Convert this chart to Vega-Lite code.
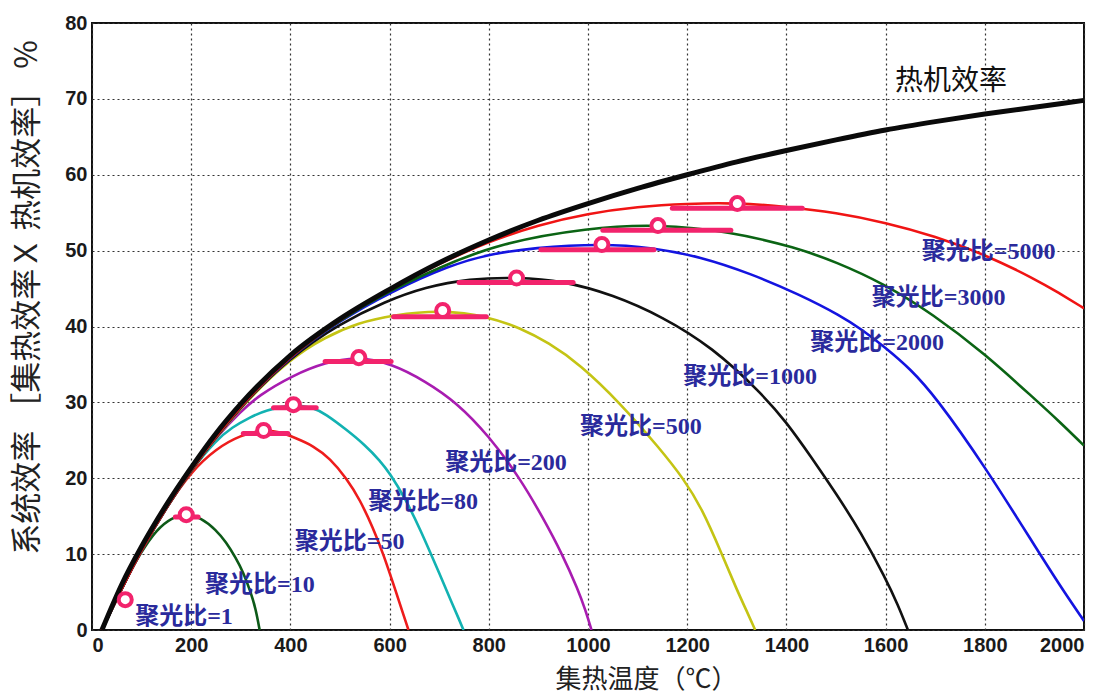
{
  "$schema": "https://vega.github.io/schema/vega-lite/v6.json",
  "width": 992,
  "height": 607,
  "autosize": "none",
  "padding": {"left": 92, "top": 23, "right": 27, "bottom": 63},
  "background": "white",
  "config": {
    "view": {"stroke": "#111111", "strokeWidth": 2},
    "axis": {
      "grid": true,
      "gridColor": "#333333",
      "gridDash": [2, 3],
      "gridWidth": 1.2,
      "domain": false,
      "ticks": false,
      "labelFont": "Liberation Sans",
      "labelFontSize": 20,
      "labelFontWeight": "bold",
      "labelColor": "#1a1a1a",
      "titleFont": "Noto Sans CJK SC",
      "titleFontWeight": "normal",
      "titleColor": "#222222"
    }
  },
  "datasets": {
    "curves": [
      {"s": "热机效率", "x": 20, "y": 0}, {"s": "热机效率", "x": 60, "y": 6}, {"s": "热机效率", "x": 100, "y": 11}, {"s": "热机效率", "x": 150, "y": 16.5}, {"s": "热机效率", "x": 200, "y": 21.4}, {"s": "热机效率", "x": 250, "y": 25.9}, {"s": "热机效率", "x": 300, "y": 29.8}, {"s": "热机效率", "x": 400, "y": 36.2}, {"s": "热机效率", "x": 500, "y": 41}, {"s": "热机效率", "x": 600, "y": 44.9}, {"s": "热机效率", "x": 700, "y": 48.4}, {"s": "热机效率", "x": 800, "y": 51.4}, {"s": "热机效率", "x": 900, "y": 54}, {"s": "热机效率", "x": 1000, "y": 56.2}, {"s": "热机效率", "x": 1100, "y": 58.2}, {"s": "热机效率", "x": 1200, "y": 60}, {"s": "热机效率", "x": 1300, "y": 61.7}, {"s": "热机效率", "x": 1400, "y": 63.2}, {"s": "热机效率", "x": 1500, "y": 64.6}, {"s": "热机效率", "x": 1600, "y": 65.9}, {"s": "热机效率", "x": 1700, "y": 67}, {"s": "热机效率", "x": 1800, "y": 68}, {"s": "热机效率", "x": 1900, "y": 68.9}, {"s": "热机效率", "x": 2000, "y": 69.8},

      {"s": "CR10", "x": 20, "y": 0}, {"s": "CR10", "x": 60, "y": 5.8}, {"s": "CR10", "x": 100, "y": 10.4}, {"s": "CR10", "x": 130, "y": 13.2}, {"s": "CR10", "x": 160, "y": 14.8}, {"s": "CR10", "x": 190, "y": 15.3}, {"s": "CR10", "x": 220, "y": 14.8}, {"s": "CR10", "x": 250, "y": 13.2}, {"s": "CR10", "x": 270, "y": 11.6}, {"s": "CR10", "x": 290, "y": 9.5}, {"s": "CR10", "x": 305, "y": 7.6}, {"s": "CR10", "x": 320, "y": 5}, {"s": "CR10", "x": 330, "y": 2.8}, {"s": "CR10", "x": 338, "y": 0},

      {"s": "CR50", "x": 20, "y": 0}, {"s": "CR50", "x": 100, "y": 10.9}, {"s": "CR50", "x": 150, "y": 16.2}, {"s": "CR50", "x": 200, "y": 20.9}, {"s": "CR50", "x": 250, "y": 23.9}, {"s": "CR50", "x": 300, "y": 25.7}, {"s": "CR50", "x": 346, "y": 26.4}, {"s": "CR50", "x": 380, "y": 26.1}, {"s": "CR50", "x": 410, "y": 25.3}, {"s": "CR50", "x": 446, "y": 24.3}, {"s": "CR50", "x": 480, "y": 22.6}, {"s": "CR50", "x": 513, "y": 20}, {"s": "CR50", "x": 540, "y": 17.2}, {"s": "CR50", "x": 567, "y": 13.4}, {"s": "CR50", "x": 587, "y": 10.1}, {"s": "CR50", "x": 615, "y": 4.6}, {"s": "CR50", "x": 628, "y": 2}, {"s": "CR50", "x": 638, "y": 0},

      {"s": "CR80", "x": 20, "y": 0}, {"s": "CR80", "x": 100, "y": 11}, {"s": "CR80", "x": 150, "y": 16.4}, {"s": "CR80", "x": 200, "y": 21.1}, {"s": "CR80", "x": 250, "y": 25}, {"s": "CR80", "x": 282, "y": 26.7}, {"s": "CR80", "x": 320, "y": 28.1}, {"s": "CR80", "x": 349, "y": 28.9}, {"s": "CR80", "x": 405, "y": 29.8}, {"s": "CR80", "x": 446, "y": 29.3}, {"s": "CR80", "x": 470, "y": 28.5}, {"s": "CR80", "x": 513, "y": 26.4}, {"s": "CR80", "x": 550, "y": 24.4}, {"s": "CR80", "x": 581, "y": 22.3}, {"s": "CR80", "x": 601, "y": 20.6}, {"s": "CR80", "x": 630, "y": 17.5}, {"s": "CR80", "x": 661, "y": 13.4}, {"s": "CR80", "x": 702, "y": 7.2}, {"s": "CR80", "x": 728, "y": 3.2}, {"s": "CR80", "x": 740, "y": 1.4}, {"s": "CR80", "x": 749, "y": 0},

      {"s": "CR200", "x": 20, "y": 0}, {"s": "CR200", "x": 100, "y": 11}, {"s": "CR200", "x": 200, "y": 21.2}, {"s": "CR200", "x": 250, "y": 25.4}, {"s": "CR200", "x": 300, "y": 28.8}, {"s": "CR200", "x": 336, "y": 30.9}, {"s": "CR200", "x": 403, "y": 33.5}, {"s": "CR200", "x": 470, "y": 35.3}, {"s": "CR200", "x": 538, "y": 36}, {"s": "CR200", "x": 605, "y": 35.1}, {"s": "CR200", "x": 672, "y": 32.8}, {"s": "CR200", "x": 735, "y": 30}, {"s": "CR200", "x": 800, "y": 25.6}, {"s": "CR200", "x": 863, "y": 20}, {"s": "CR200", "x": 910, "y": 14.7}, {"s": "CR200", "x": 948, "y": 10}, {"s": "CR200", "x": 980, "y": 5.3}, {"s": "CR200", "x": 995, "y": 2.6}, {"s": "CR200", "x": 1007, "y": 0},

      {"s": "CR500", "x": 20, "y": 0}, {"s": "CR500", "x": 100, "y": 11}, {"s": "CR500", "x": 200, "y": 21.3}, {"s": "CR500", "x": 300, "y": 29.5}, {"s": "CR500", "x": 400, "y": 35.8}, {"s": "CR500", "x": 470, "y": 38.6}, {"s": "CR500", "x": 538, "y": 40.5}, {"s": "CR500", "x": 605, "y": 41.5}, {"s": "CR500", "x": 706, "y": 42.2}, {"s": "CR500", "x": 800, "y": 41.3}, {"s": "CR500", "x": 863, "y": 39.8}, {"s": "CR500", "x": 920, "y": 37.9}, {"s": "CR500", "x": 984, "y": 35}, {"s": "CR500", "x": 1065, "y": 29.9}, {"s": "CR500", "x": 1145, "y": 23.9}, {"s": "CR500", "x": 1192, "y": 20}, {"s": "CR500", "x": 1230, "y": 16}, {"s": "CR500", "x": 1270, "y": 10}, {"s": "CR500", "x": 1300, "y": 5.3}, {"s": "CR500", "x": 1320, "y": 2.5}, {"s": "CR500", "x": 1337, "y": 0},

      {"s": "CR1000", "x": 20, "y": 0}, {"s": "CR1000", "x": 100, "y": 11}, {"s": "CR1000", "x": 200, "y": 21.3}, {"s": "CR1000", "x": 300, "y": 29.6}, {"s": "CR1000", "x": 400, "y": 36}, {"s": "CR1000", "x": 500, "y": 40.4}, {"s": "CR1000", "x": 591, "y": 43.3}, {"s": "CR1000", "x": 672, "y": 45.2}, {"s": "CR1000", "x": 760, "y": 46.3}, {"s": "CR1000", "x": 857, "y": 46.5}, {"s": "CR1000", "x": 950, "y": 46}, {"s": "CR1000", "x": 1050, "y": 44.2}, {"s": "CR1000", "x": 1150, "y": 41.3}, {"s": "CR1000", "x": 1250, "y": 37.3}, {"s": "CR1000", "x": 1350, "y": 31.2}, {"s": "CR1000", "x": 1400, "y": 27.4}, {"s": "CR1000", "x": 1450, "y": 22.8}, {"s": "CR1000", "x": 1500, "y": 18}, {"s": "CR1000", "x": 1550, "y": 12.9}, {"s": "CR1000", "x": 1600, "y": 6.8}, {"s": "CR1000", "x": 1625, "y": 3.3}, {"s": "CR1000", "x": 1645, "y": 0},

      {"s": "CR2000", "x": 20, "y": 0}, {"s": "CR2000", "x": 100, "y": 11}, {"s": "CR2000", "x": 200, "y": 21.4}, {"s": "CR2000", "x": 300, "y": 29.7}, {"s": "CR2000", "x": 400, "y": 36.1}, {"s": "CR2000", "x": 500, "y": 40.8}, {"s": "CR2000", "x": 600, "y": 44.5}, {"s": "CR2000", "x": 722, "y": 48.1}, {"s": "CR2000", "x": 800, "y": 49.5}, {"s": "CR2000", "x": 890, "y": 50.4}, {"s": "CR2000", "x": 1028, "y": 50.9}, {"s": "CR2000", "x": 1131, "y": 50.4}, {"s": "CR2000", "x": 1226, "y": 49.2}, {"s": "CR2000", "x": 1327, "y": 47}, {"s": "CR2000", "x": 1427, "y": 44.2}, {"s": "CR2000", "x": 1510, "y": 41.4}, {"s": "CR2000", "x": 1552, "y": 39.6}, {"s": "CR2000", "x": 1600, "y": 37.2}, {"s": "CR2000", "x": 1650, "y": 34.4}, {"s": "CR2000", "x": 1700, "y": 30.8}, {"s": "CR2000", "x": 1800, "y": 21.6}, {"s": "CR2000", "x": 1911, "y": 10}, {"s": "CR2000", "x": 1960, "y": 5}, {"s": "CR2000", "x": 2000, "y": 1.2},

      {"s": "CR3000", "x": 20, "y": 0}, {"s": "CR3000", "x": 100, "y": 11}, {"s": "CR3000", "x": 200, "y": 21.4}, {"s": "CR3000", "x": 300, "y": 29.7}, {"s": "CR3000", "x": 400, "y": 36.2}, {"s": "CR3000", "x": 500, "y": 40.9}, {"s": "CR3000", "x": 600, "y": 44.7}, {"s": "CR3000", "x": 700, "y": 47.8}, {"s": "CR3000", "x": 823, "y": 51}, {"s": "CR3000", "x": 1000, "y": 53}, {"s": "CR3000", "x": 1140, "y": 53.5}, {"s": "CR3000", "x": 1288, "y": 52.5}, {"s": "CR3000", "x": 1420, "y": 50.4}, {"s": "CR3000", "x": 1500, "y": 48.5}, {"s": "CR3000", "x": 1595, "y": 45.7}, {"s": "CR3000", "x": 1696, "y": 41.6}, {"s": "CR3000", "x": 1800, "y": 36.4}, {"s": "CR3000", "x": 1898, "y": 30.6}, {"s": "CR3000", "x": 1950, "y": 27.5}, {"s": "CR3000", "x": 2000, "y": 24.3},

      {"s": "CR5000", "x": 20, "y": 0}, {"s": "CR5000", "x": 100, "y": 11}, {"s": "CR5000", "x": 200, "y": 21.4}, {"s": "CR5000", "x": 300, "y": 29.7}, {"s": "CR5000", "x": 400, "y": 36.2}, {"s": "CR5000", "x": 500, "y": 41}, {"s": "CR5000", "x": 600, "y": 44.9}, {"s": "CR5000", "x": 700, "y": 48.3}, {"s": "CR5000", "x": 800, "y": 51.2}, {"s": "CR5000", "x": 900, "y": 53.4}, {"s": "CR5000", "x": 1000, "y": 54.9}, {"s": "CR5000", "x": 1100, "y": 55.8}, {"s": "CR5000", "x": 1200, "y": 56.2}, {"s": "CR5000", "x": 1300, "y": 56.3}, {"s": "CR5000", "x": 1400, "y": 55.8}, {"s": "CR5000", "x": 1500, "y": 55}, {"s": "CR5000", "x": 1600, "y": 53.7}, {"s": "CR5000", "x": 1700, "y": 51.9}, {"s": "CR5000", "x": 1800, "y": 49.5}, {"s": "CR5000", "x": 1900, "y": 46.3}, {"s": "CR5000", "x": 1950, "y": 44.4}, {"s": "CR5000", "x": 2000, "y": 42.4}
    ],
    "peaks": [
      {"cr": "CR1", "cx": 67, "cy": 4.0},
      {"cr": "CR10", "cx": 190, "cy": 15.2, "x1": 168, "x2": 214, "by": 14.9},
      {"cr": "CR50", "cx": 346, "cy": 26.3, "x1": 305, "x2": 395, "by": 25.9},
      {"cr": "CR80", "cx": 406, "cy": 29.7, "x1": 366, "x2": 452, "by": 29.3},
      {"cr": "CR200", "cx": 538, "cy": 35.9, "x1": 470, "x2": 603, "by": 35.4},
      {"cr": "CR500", "cx": 707, "cy": 42.1, "x1": 608, "x2": 795, "by": 41.3},
      {"cr": "CR1000", "cx": 856, "cy": 46.4, "x1": 740, "x2": 970, "by": 45.8},
      {"cr": "CR2000", "cx": 1028, "cy": 50.8, "x1": 905, "x2": 1133, "by": 50.1},
      {"cr": "CR3000", "cx": 1141, "cy": 53.3, "x1": 1030, "x2": 1288, "by": 52.7},
      {"cr": "CR5000", "cx": 1301, "cy": 56.2, "x1": 1170, "x2": 1432, "by": 55.6}
    ],
    "labels": [
      {"t": "聚光比=1", "x": 87, "y": 1.75},
      {"t": "聚光比=10", "x": 228, "y": 5.9},
      {"t": "聚光比=50", "x": 409, "y": 11.6},
      {"t": "聚光比=80", "x": 557, "y": 16.9},
      {"t": "聚光比=200", "x": 712, "y": 22},
      {"t": "聚光比=500", "x": 984, "y": 26.8},
      {"t": "聚光比=1000", "x": 1192, "y": 33.4},
      {"t": "聚光比=2000", "x": 1448, "y": 37.8},
      {"t": "聚光比=3000", "x": 1572, "y": 43.7},
      {"t": "聚光比=5000", "x": 1673, "y": 49.8}
    ],
    "title2": [{"t": "热机效率", "x": 1619, "y": 72.2}]
  },
  "layer": [
    {
      "data": {"name": "curves"},
      "transform": [{"filter": "datum.s !== '热机效率'"}],
      "mark": {"type": "line", "strokeWidth": 2.6, "interpolate": "basis", "clip": true},
      "encoding": {
        "x": {
          "field": "x", "type": "quantitative",
          "scale": {"domain": [0, 2000], "nice": false, "zero": false},
          "axis": {
            "values": [0, 200, 400, 600, 800, 1000, 1200, 1400, 1600, 1800, 2000],
            "format": "d",
            "title": "集热温度（℃）",
            "titleFontSize": 26,
            "labelPadding": 5,
            "titleX": 554, "titleY": 49, "titleBaseline": "middle", "titleAlign": "center"
          }
        },
        "y": {
          "field": "y", "type": "quantitative",
          "scale": {"domain": [0, 80], "nice": false},
          "axis": {
            "values": [0, 10, 20, 30, 40, 50, 60, 70, 80],
            "title": "系统效率 ［集热效率Ｘ  热机效率］ %",
            "titleFontSize": 31,
            "labelPadding": 5,
            "titleX": -65, "titleY": 274, "titleAngle": -90, "titleBaseline": "middle", "titleAlign": "center"
          }
        },
        "color": {
          "field": "s", "type": "nominal",
          "scale": {
            "domain": ["CR10", "CR50", "CR80", "CR200", "CR500", "CR1000", "CR2000", "CR3000", "CR5000"],
            "range": ["#0d5a18", "#ee1c1c", "#12b2b2", "#a81cb0", "#c4c414", "#111111", "#1414e0", "#0b6414", "#f01414"]
          },
          "legend": null
        },
        "detail": {"field": "s"}
      }
    },
    {
      "data": {"name": "curves"},
      "transform": [{"filter": "datum.s === '热机效率'"}],
      "mark": {"type": "line", "strokeWidth": 5, "color": "#0a0a0a", "interpolate": "monotone"},
      "encoding": {
        "x": {"field": "x", "type": "quantitative"},
        "y": {"field": "y", "type": "quantitative"}
      }
    },
    {
      "data": {"name": "peaks"},
      "transform": [{"filter": "isValid(datum.x1)"}],
      "mark": {"type": "rule", "strokeWidth": 5, "color": "#f2236c", "strokeCap": "round"},
      "encoding": {
        "x": {"field": "x1", "type": "quantitative"},
        "x2": {"field": "x2"},
        "y": {"field": "by", "type": "quantitative"}
      }
    },
    {
      "data": {"name": "peaks"},
      "mark": {"type": "point", "shape": "circle", "filled": true, "fill": "#ffffff", "stroke": "#f2236c", "strokeWidth": 4, "size": 170, "opacity": 1},
      "encoding": {
        "x": {"field": "cx", "type": "quantitative"},
        "y": {"field": "cy", "type": "quantitative"}
      }
    },
    {
      "data": {"name": "labels"},
      "mark": {"type": "text", "align": "left", "baseline": "middle", "font": "Liberation Serif, Noto Sans CJK SC", "fontSize": 24, "fontWeight": "bold", "color": "#2a2a9c"},
      "encoding": {
        "x": {"field": "x", "type": "quantitative"},
        "y": {"field": "y", "type": "quantitative"},
        "text": {"field": "t"}
      }
    },
    {
      "data": {"name": "title2"},
      "mark": {"type": "text", "align": "left", "baseline": "middle", "font": "Noto Sans CJK SC", "fontSize": 28, "fontWeight": "normal", "color": "#111111"},
      "encoding": {
        "x": {"field": "x", "type": "quantitative"},
        "y": {"field": "y", "type": "quantitative"},
        "text": {"field": "t"}
      }
    }
  ]
}
